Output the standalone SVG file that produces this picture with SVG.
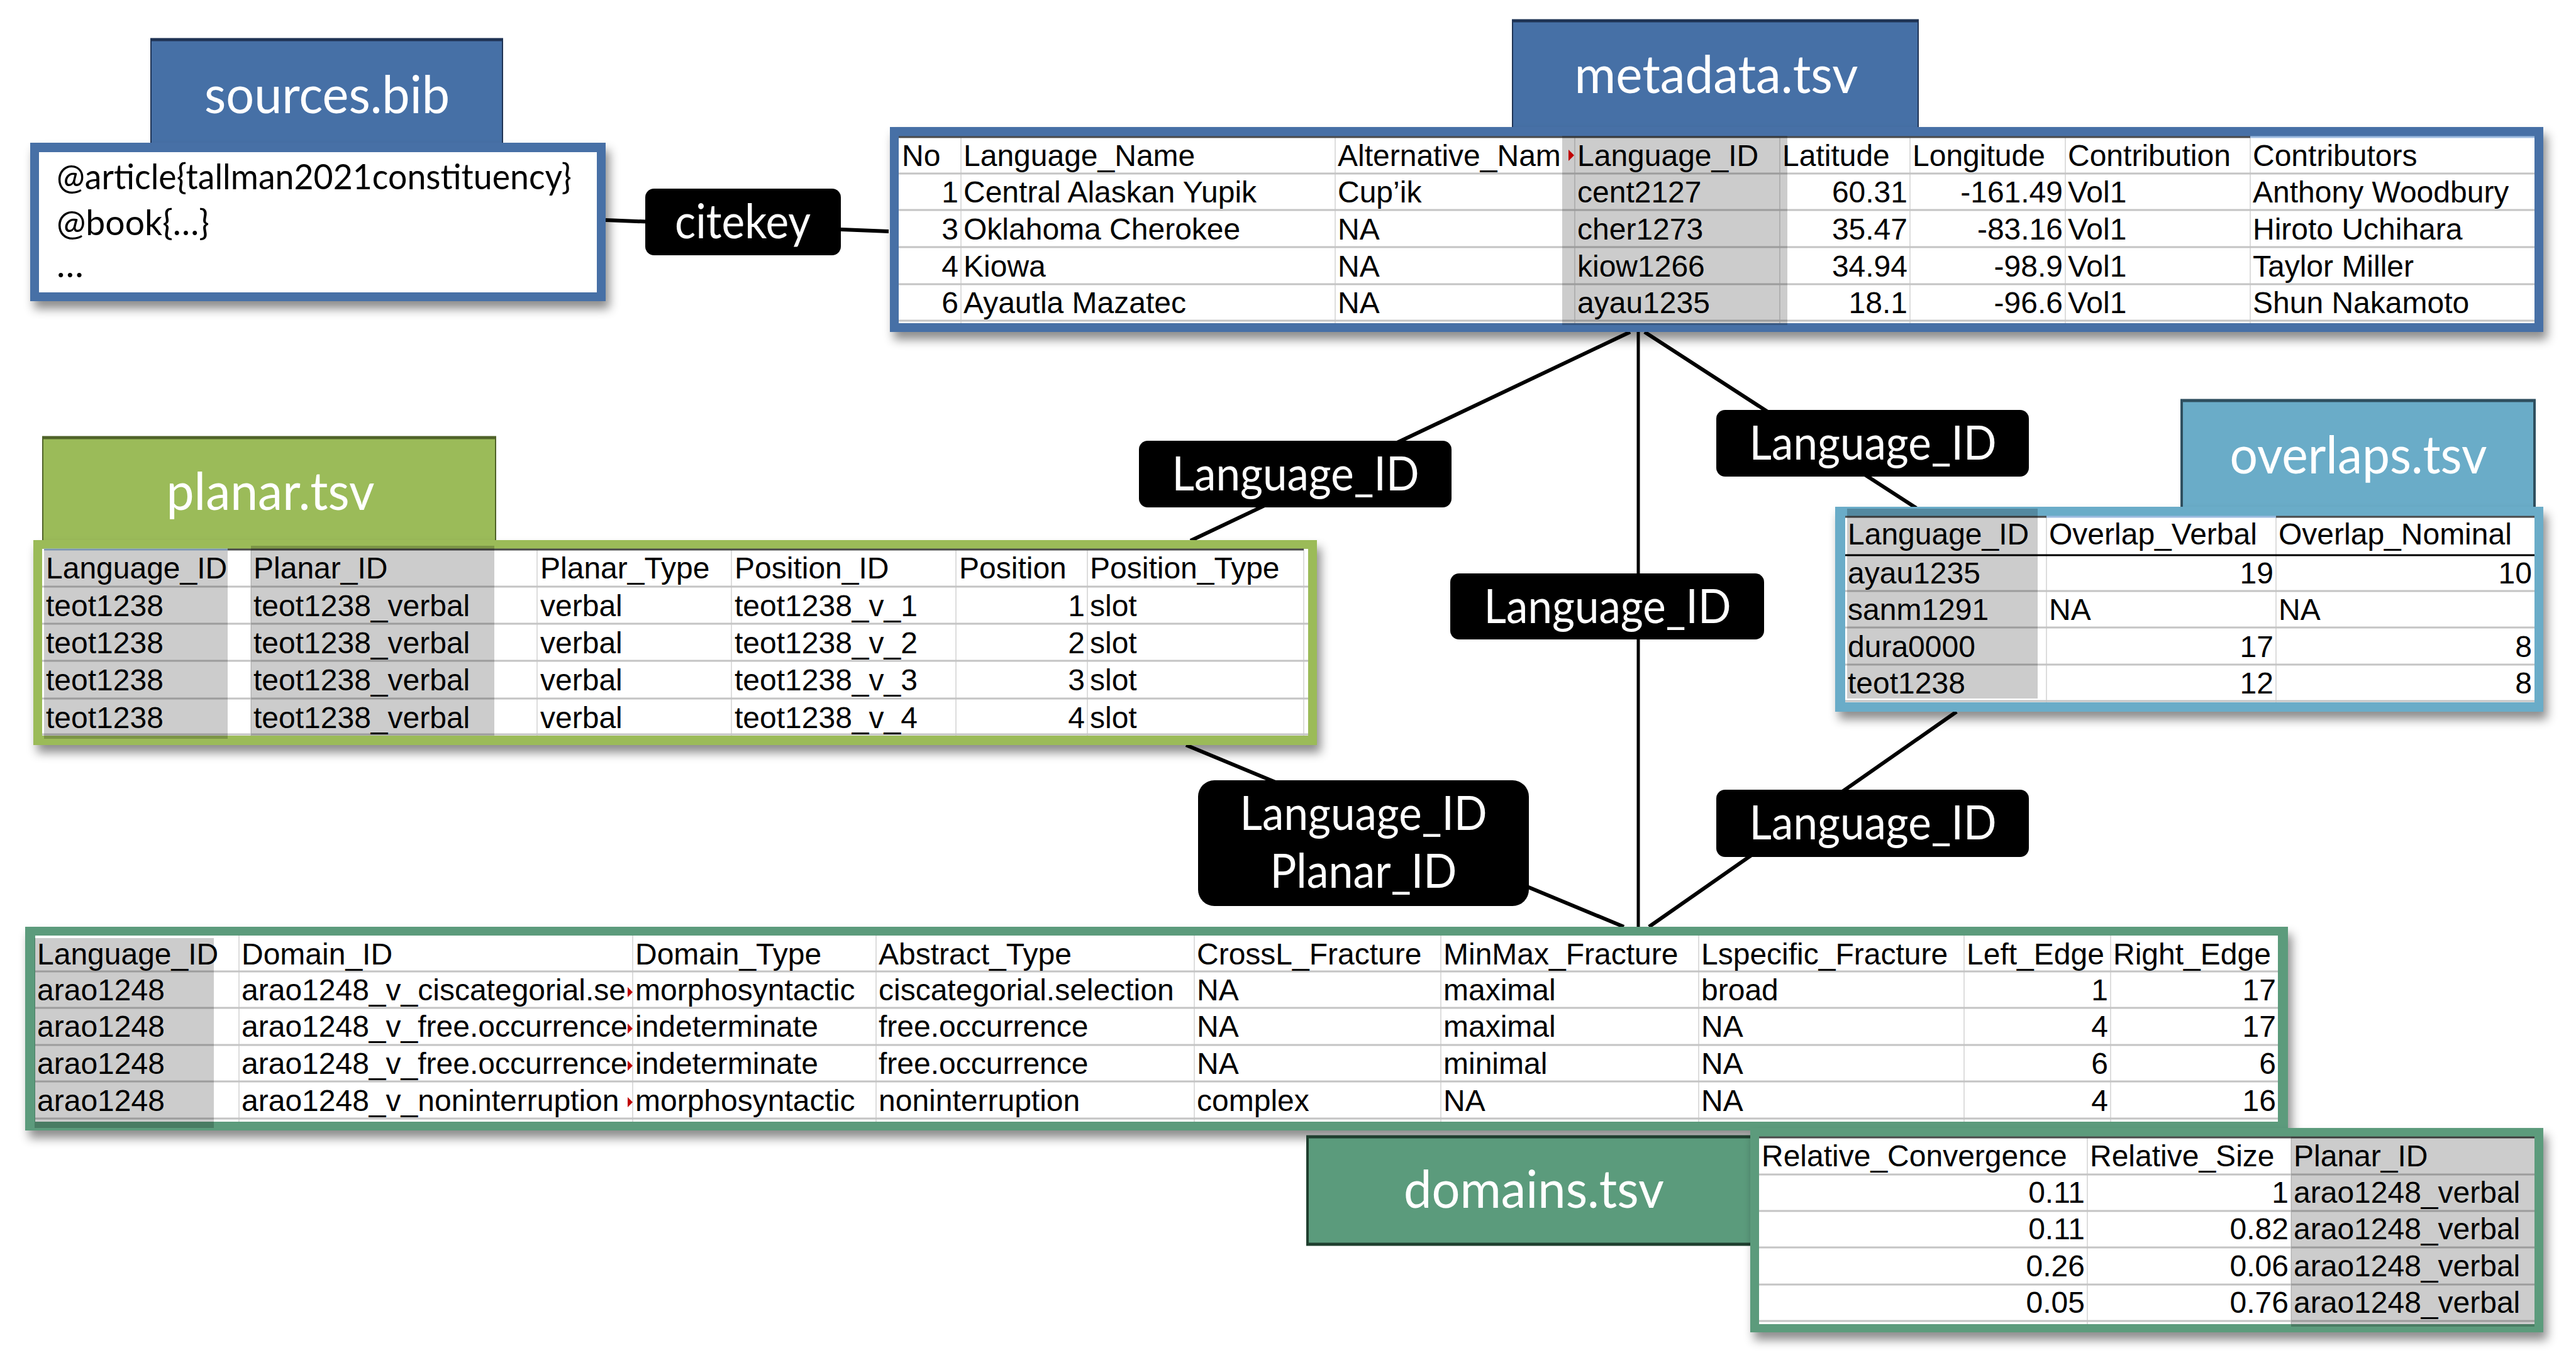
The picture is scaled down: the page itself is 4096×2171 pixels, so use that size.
<svg xmlns="http://www.w3.org/2000/svg" width="4096" height="2171" viewBox="0 0 4096 2171">
<style>
.t{font-family:"Liberation Sans",Arial,sans-serif;font-size:48px;fill:#000}
.r{text-anchor:end}
.ttl{font-family:Lato,"Open Sans",sans-serif;font-size:84px;fill:#fff;text-anchor:middle}
.lbl{font-family:Lato,"Open Sans",sans-serif;font-size:75px;fill:#fff;text-anchor:middle}
.bib{font-family:Lato,"Open Sans",sans-serif;font-size:57px;fill:#000}
.hl{stroke:#c4c4c4;stroke-width:3}
.vl{stroke:#d2d2d2;stroke-width:1.5}
.top{stroke:#4a4a4a;stroke-width:3}
.gray{fill:#000;fill-opacity:0.2}
.conn{stroke:#000;stroke-width:6;fill:none}
.lblbox{fill:#000}
.ovf{fill:#c00000}
</style>
<defs>
<filter id="sh" x="-5%" y="-10%" width="115%" height="130%">
<feDropShadow dx="6" dy="12" stdDeviation="8" flood-color="#000" flood-opacity="0.45"/>
</filter>
<clipPath id="cpAlt"><rect x="2123" y="217" width="372" height="60"/></clipPath>
</defs>
<rect width="4096" height="2171" fill="#fff"/>

<g id="connectors">
<line class="conn" x1="963" y1="350" x2="1413" y2="368"/>
<line class="conn" x1="2592" y1="528" x2="1893" y2="860"/>
<line class="conn" x1="2605" y1="528" x2="2605" y2="1474" style="stroke-width:5"/>
<line class="conn" x1="2615" y1="528" x2="3047" y2="808"/>
<line class="conn" x1="1886" y1="1185" x2="2582" y2="1474"/>
<line class="conn" x1="3111" y1="1132" x2="2622" y2="1474"/>
</g>

<g id="sources">
<rect x="239" y="61" width="561" height="168" fill="#4670A6"/>
<line x1="239" y1="63" x2="800" y2="63" stroke="#1F3354" stroke-width="5"/>
<line x1="240" y1="61" x2="240" y2="229" stroke="#1F3354" stroke-width="2"/>
<line x1="799" y1="61" x2="799" y2="229" stroke="#1F3354" stroke-width="2"/>
<text class="ttl" x="520" y="180" textLength="390" lengthAdjust="spacingAndGlyphs">sources.bib</text>
<g filter="url(#sh)">
<rect x="48" y="227" width="915" height="252" fill="#4670A6"/>
</g>
<rect x="62" y="242" width="887" height="223" fill="#fff"/>
<text class="bib" x="90" y="301" textLength="819" lengthAdjust="spacingAndGlyphs">@article{tallman2021constituency}</text>
<text class="bib" x="90" y="374" textLength="243" lengthAdjust="spacingAndGlyphs">@book{…}</text>
<text class="bib" x="90" y="441">…</text>
</g>

<g id="metadata">
<rect x="2404" y="31" width="647" height="172" fill="#4670A6"/>
<line x1="2404" y1="33" x2="3051" y2="33" stroke="#1F3354" stroke-width="5"/>
<line x1="2405" y1="31" x2="2405" y2="203" stroke="#1F3354" stroke-width="2"/>
<line x1="3050" y1="31" x2="3050" y2="203" stroke="#1F3354" stroke-width="2"/>
<text class="ttl" x="2729" y="148" textLength="451" lengthAdjust="spacingAndGlyphs">metadata.tsv</text>
<g filter="url(#sh)">
<rect x="1415" y="202" width="2629" height="326" fill="#4670A6"/>
</g>
<rect x="1429" y="217" width="2601" height="297" fill="#fff"/>
<g>
<line class="vl" x1="1528" y1="217" x2="1528" y2="514"/>
<line class="vl" x1="2123" y1="217" x2="2123" y2="514"/>
<line class="vl" x1="2504" y1="217" x2="2504" y2="514"/>
<line class="vl" x1="2830" y1="217" x2="2830" y2="514"/>
<line class="vl" x1="3037" y1="217" x2="3037" y2="514"/>
<line class="vl" x1="3284" y1="217" x2="3284" y2="514"/>
<line class="vl" x1="3578" y1="217" x2="3578" y2="514"/>
<line class="hl" x1="1429" y1="276" x2="4030" y2="276"/>
<line class="hl" x1="1429" y1="334" x2="4030" y2="334"/>
<line class="hl" x1="1429" y1="393" x2="4030" y2="393"/>
<line class="hl" x1="1429" y1="452" x2="4030" y2="452"/>
<line class="hl" x1="1429" y1="510" x2="4030" y2="510"/>
<line class="top" x1="1429" y1="218" x2="3578" y2="218"/>
<line x1="3578" y1="218" x2="4030" y2="218" stroke="#9dbbe0" stroke-width="3"/>
</g>
<rect class="gray" x="2484" y="216" width="358" height="301"/>
<text class="t" x="1434" y="264">No</text>
<text class="t" x="1532" y="264">Language_Name</text>
<text class="t" x="2127" y="264" clip-path="url(#cpAlt)">Alternative_Nam</text>
<polygon class="ovf" points="2494,238 2503,247 2494,256"/>
<text class="t" x="2508" y="264">Language_ID</text>
<text class="t" x="2834" y="264">Latitude</text>
<text class="t" x="3041" y="264">Longitude</text>
<text class="t" x="3288" y="264">Contribution</text>
<text class="t" x="3582" y="264">Contributors</text>

<text class="t r" x="1524" y="322">1</text>
<text class="t" x="1532" y="322">Central Alaskan Yupik</text>
<text class="t" x="2127" y="322">Cup’ik</text>
<text class="t" x="2508" y="322">cent2127</text>
<text class="t r" x="3033" y="322">60.31</text>
<text class="t r" x="3280" y="322">-161.49</text>
<text class="t" x="3288" y="322">Vol1</text>
<text class="t" x="3582" y="322">Anthony Woodbury</text>

<text class="t r" x="1524" y="381">3</text>
<text class="t" x="1532" y="381">Oklahoma Cherokee</text>
<text class="t" x="2127" y="381">NA</text>
<text class="t" x="2508" y="381">cher1273</text>
<text class="t r" x="3033" y="381">35.47</text>
<text class="t r" x="3280" y="381">-83.16</text>
<text class="t" x="3288" y="381">Vol1</text>
<text class="t" x="3582" y="381">Hiroto Uchihara</text>

<text class="t r" x="1524" y="440">4</text>
<text class="t" x="1532" y="440">Kiowa</text>
<text class="t" x="2127" y="440">NA</text>
<text class="t" x="2508" y="440">kiow1266</text>
<text class="t r" x="3033" y="440">34.94</text>
<text class="t r" x="3280" y="440">-98.9</text>
<text class="t" x="3288" y="440">Vol1</text>
<text class="t" x="3582" y="440">Taylor Miller</text>

<text class="t r" x="1524" y="498">6</text>
<text class="t" x="1532" y="498">Ayautla Mazatec</text>
<text class="t" x="2127" y="498">NA</text>
<text class="t" x="2508" y="498">ayau1235</text>
<text class="t r" x="3033" y="498">18.1</text>
<text class="t r" x="3280" y="498">-96.6</text>
<text class="t" x="3288" y="498">Vol1</text>
<text class="t" x="3582" y="498">Shun Nakamoto</text>
</g>

<g id="planar">
<rect x="67" y="694" width="722" height="166" fill="#9BBB59"/>
<line x1="67" y1="696" x2="789" y2="696" stroke="#4F6228" stroke-width="5"/>
<line x1="68" y1="694" x2="68" y2="860" stroke="#4F6228" stroke-width="2"/>
<line x1="788" y1="694" x2="788" y2="860" stroke="#4F6228" stroke-width="2"/>
<text class="ttl" x="430" y="811" textLength="331" lengthAdjust="spacingAndGlyphs">planar.tsv</text>
<g filter="url(#sh)">
<rect x="53" y="859" width="2041" height="326" fill="#9BBB59"/>
</g>
<rect x="67" y="873" width="2013" height="297" fill="#fff"/>
<line class="vl" x1="399" y1="873" x2="399" y2="1170"/>
<line class="vl" x1="854" y1="873" x2="854" y2="1170"/>
<line class="vl" x1="1163" y1="873" x2="1163" y2="1170"/>
<line class="vl" x1="1520" y1="873" x2="1520" y2="1170"/>
<line class="vl" x1="1729" y1="873" x2="1729" y2="1170"/>
<line class="vl" x1="2073" y1="873" x2="2073" y2="1170"/>
<line class="hl" x1="67" y1="933" x2="2080" y2="933"/>
<line class="hl" x1="67" y1="992" x2="2080" y2="992"/>
<line class="hl" x1="67" y1="1051" x2="2080" y2="1051"/>
<line class="hl" x1="67" y1="1111" x2="2080" y2="1111"/>
<line class="hl" x1="67" y1="1168" x2="2080" y2="1168"/>
<line class="top" x1="362" y1="874" x2="2073" y2="874"/>
<line x1="70" y1="874" x2="362" y2="874" stroke="#9dbbe0" stroke-width="3"/>
<rect class="gray" x="70" y="873" width="292" height="302"/>
<rect class="gray" x="399" y="868" width="387" height="302"/>
<text class="t" x="73" y="920">Language_ID</text>
<text class="t" x="403" y="920">Planar_ID</text>
<text class="t" x="859" y="920">Planar_Type</text>
<text class="t" x="1168" y="920">Position_ID</text>
<text class="t" x="1525" y="920">Position</text>
<text class="t" x="1733" y="920">Position_Type</text>

<text class="t" x="73" y="980">teot1238</text>
<text class="t" x="403" y="980">teot1238_verbal</text>
<text class="t" x="859" y="980">verbal</text>
<text class="t" x="1168" y="980">teot1238_v_1</text>
<text class="t r" x="1725" y="980">1</text>
<text class="t" x="1733" y="980">slot</text>

<text class="t" x="73" y="1039">teot1238</text>
<text class="t" x="403" y="1039">teot1238_verbal</text>
<text class="t" x="859" y="1039">verbal</text>
<text class="t" x="1168" y="1039">teot1238_v_2</text>
<text class="t r" x="1725" y="1039">2</text>
<text class="t" x="1733" y="1039">slot</text>

<text class="t" x="73" y="1098">teot1238</text>
<text class="t" x="403" y="1098">teot1238_verbal</text>
<text class="t" x="859" y="1098">verbal</text>
<text class="t" x="1168" y="1098">teot1238_v_3</text>
<text class="t r" x="1725" y="1098">3</text>
<text class="t" x="1733" y="1098">slot</text>

<text class="t" x="73" y="1158">teot1238</text>
<text class="t" x="403" y="1158">teot1238_verbal</text>
<text class="t" x="859" y="1158">verbal</text>
<text class="t" x="1168" y="1158">teot1238_v_4</text>
<text class="t r" x="1725" y="1158">4</text>
<text class="t" x="1733" y="1158">slot</text>
</g>

<g id="overlaps">
<rect x="3467" y="635" width="565" height="172" fill="#6AACC8"/>
<line x1="3467" y1="637" x2="4032" y2="637" stroke="#2F4F5F" stroke-width="5"/>
<line x1="3469" y1="635" x2="3469" y2="807" stroke="#2F4F5F" stroke-width="4"/>
<line x1="4030" y1="635" x2="4030" y2="807" stroke="#2F4F5F" stroke-width="4"/>
<text class="ttl" x="3750" y="753" textLength="409" lengthAdjust="spacingAndGlyphs">overlaps.tsv</text>
<g filter="url(#sh)">
<rect x="2918" y="806" width="1126" height="326" fill="#6AACC8"/>
</g>
<rect x="2934" y="821" width="1096" height="296" fill="#fff"/>
<line class="vl" x1="3254" y1="821" x2="3254" y2="1117"/>
<line class="vl" x1="3619" y1="821" x2="3619" y2="1117"/>
<line class="hl" x1="2934" y1="940" x2="4030" y2="940"/>
<line class="hl" x1="2934" y1="998" x2="4030" y2="998"/>
<line class="hl" x1="2934" y1="1057" x2="4030" y2="1057"/>
<line class="hl" x1="2934" y1="1115" x2="4030" y2="1115"/>
<line x1="2934" y1="883" x2="4030" y2="883" stroke="#000" stroke-width="3"/>
<line class="top" x1="2934" y1="822" x2="3254" y2="822"/>
<line x1="3254" y1="822" x2="3619" y2="822" stroke="#9dbbe0" stroke-width="3"/>
<line class="top" x1="3619" y1="822" x2="4030" y2="822"/>
<rect class="gray" x="2937" y="809" width="303" height="302"/>
<text class="t" x="2938" y="866">Language_ID</text>
<text class="t" x="3258" y="866">Overlap_Verbal</text>
<text class="t" x="3623" y="866">Overlap_Nominal</text>

<text class="t" x="2938" y="928">ayau1235</text>
<text class="t r" x="3615" y="928">19</text>
<text class="t r" x="4026" y="928">10</text>

<text class="t" x="2938" y="986">sanm1291</text>
<text class="t" x="3258" y="986">NA</text>
<text class="t" x="3623" y="986">NA</text>

<text class="t" x="2938" y="1045">dura0000</text>
<text class="t r" x="3615" y="1045">17</text>
<text class="t r" x="4026" y="1045">8</text>

<text class="t" x="2938" y="1103">teot1238</text>
<text class="t r" x="3615" y="1103">12</text>
<text class="t r" x="4026" y="1103">8</text>
</g>

<g id="domains">
<g filter="url(#sh)">
<rect x="40" y="1474" width="3598" height="324" fill="#5B9B7C"/>
</g>
<rect x="56" y="1488" width="3566" height="296" fill="#fff"/>
<line class="vl" x1="380" y1="1488" x2="380" y2="1784"/>
<line class="vl" x1="1006" y1="1488" x2="1006" y2="1784"/>
<line class="vl" x1="1393" y1="1488" x2="1393" y2="1784"/>
<line class="vl" x1="1899" y1="1488" x2="1899" y2="1784"/>
<line class="vl" x1="2291" y1="1488" x2="2291" y2="1784"/>
<line class="vl" x1="2701" y1="1488" x2="2701" y2="1784"/>
<line class="vl" x1="3123" y1="1488" x2="3123" y2="1784"/>
<line class="vl" x1="3356" y1="1488" x2="3356" y2="1784"/>
<line class="hl" x1="56" y1="1545" x2="3622" y2="1545"/>
<line class="hl" x1="56" y1="1603" x2="3622" y2="1603"/>
<line class="hl" x1="56" y1="1662" x2="3622" y2="1662"/>
<line class="hl" x1="56" y1="1720" x2="3622" y2="1720"/>
<line class="hl" x1="56" y1="1779" x2="3622" y2="1779"/>
<rect class="gray" x="55" y="1492" width="285" height="302"/>
<text class="t" x="59" y="1534">Language_ID</text>
<text class="t" x="384" y="1534">Domain_ID</text>
<text class="t" x="1010" y="1534">Domain_Type</text>
<text class="t" x="1397" y="1534">Abstract_Type</text>
<text class="t" x="1903" y="1534">CrossL_Fracture</text>
<text class="t" x="2295" y="1534">MinMax_Fracture</text>
<text class="t" x="2705" y="1534">Lspecific_Fracture</text>
<text class="t" x="3127" y="1534">Left_Edge</text>
<text class="t" x="3360" y="1534">Right_Edge</text>

<text class="t" x="59" y="1591">arao1248</text>
<text class="t" x="384" y="1591">arao1248_v_ciscategorial.se</text>
<text class="t" x="1010" y="1591">morphosyntactic</text>
<text class="t" x="1397" y="1591">ciscategorial.selection</text>
<text class="t" x="1903" y="1591">NA</text>
<text class="t" x="2295" y="1591">maximal</text>
<text class="t" x="2705" y="1591">broad</text>
<text class="t r" x="3352" y="1591">1</text>
<text class="t r" x="3619" y="1591">17</text>

<text class="t" x="59" y="1649">arao1248</text>
<text class="t" x="384" y="1649">arao1248_v_free.occurrence</text>
<text class="t" x="1010" y="1649">indeterminate</text>
<text class="t" x="1397" y="1649">free.occurrence</text>
<text class="t" x="1903" y="1649">NA</text>
<text class="t" x="2295" y="1649">maximal</text>
<text class="t" x="2705" y="1649">NA</text>
<text class="t r" x="3352" y="1649">4</text>
<text class="t r" x="3619" y="1649">17</text>

<text class="t" x="59" y="1708">arao1248</text>
<text class="t" x="384" y="1708">arao1248_v_free.occurrence</text>
<text class="t" x="1010" y="1708">indeterminate</text>
<text class="t" x="1397" y="1708">free.occurrence</text>
<text class="t" x="1903" y="1708">NA</text>
<text class="t" x="2295" y="1708">minimal</text>
<text class="t" x="2705" y="1708">NA</text>
<text class="t r" x="3352" y="1708">6</text>
<text class="t r" x="3619" y="1708">6</text>

<text class="t" x="59" y="1767">arao1248</text>
<text class="t" x="384" y="1767">arao1248_v_noninterruption</text>
<text class="t" x="1010" y="1767">morphosyntactic</text>
<text class="t" x="1397" y="1767">noninterruption</text>
<text class="t" x="1903" y="1767">complex</text>
<text class="t" x="2295" y="1767">NA</text>
<text class="t" x="2705" y="1767">NA</text>
<text class="t r" x="3352" y="1767">4</text>
<text class="t r" x="3619" y="1767">16</text>
<polygon class="ovf" points="998,1570 1006,1578 998,1586"/>
<polygon class="ovf" points="998,1628 1006,1636 998,1644"/>
<polygon class="ovf" points="998,1687 1006,1695 998,1703"/>
<polygon class="ovf" points="998,1745 1006,1753 998,1761"/>

<rect x="2077" y="1806" width="706" height="175" fill="#5B9B7C"/>
<line x1="2077" y1="1808" x2="2783" y2="1808" stroke="#1F3F2F" stroke-width="5"/>
<line x1="2079" y1="1806" x2="2079" y2="1981" stroke="#1F3F2F" stroke-width="4"/>
<line x1="2077" y1="1979" x2="2783" y2="1979" stroke="#1F3F2F" stroke-width="5"/>
<text class="ttl" x="2439" y="1921" textLength="414" lengthAdjust="spacingAndGlyphs">domains.tsv</text>
<g filter="url(#sh)">
<rect x="2783" y="1794" width="1261" height="325" fill="#5B9B7C"/>
</g>
<rect x="2797" y="1808" width="1233" height="298" fill="#fff"/>
<line class="vl" x1="3319" y1="1808" x2="3319" y2="2106"/>
<line class="vl" x1="3643" y1="1808" x2="3643" y2="2106"/>
<line class="hl" x1="2797" y1="1868" x2="4030" y2="1868"/>
<line class="hl" x1="2797" y1="1926" x2="4030" y2="1926"/>
<line class="hl" x1="2797" y1="1984" x2="4030" y2="1984"/>
<line class="hl" x1="2797" y1="2043" x2="4030" y2="2043"/>
<line class="hl" x1="2797" y1="2101" x2="4030" y2="2101"/>
<line class="top" x1="2797" y1="1809" x2="4030" y2="1809"/>
<rect class="gray" x="3643" y="1808" width="387" height="302"/>
<text class="t" x="2801" y="1855">Relative_Convergence</text>
<text class="t" x="3323" y="1855">Relative_Size</text>
<text class="t" x="3647" y="1855">Planar_ID</text>

<text class="t r" x="3315" y="1913">0.11</text>
<text class="t r" x="3639" y="1913">1</text>
<text class="t" x="3647" y="1913">arao1248_verbal</text>

<text class="t r" x="3315" y="1971">0.11</text>
<text class="t r" x="3639" y="1971">0.82</text>
<text class="t" x="3647" y="1971">arao1248_verbal</text>

<text class="t r" x="3315" y="2030">0.26</text>
<text class="t r" x="3639" y="2030">0.06</text>
<text class="t" x="3647" y="2030">arao1248_verbal</text>

<text class="t r" x="3315" y="2088">0.05</text>
<text class="t r" x="3639" y="2088">0.76</text>
<text class="t" x="3647" y="2088">arao1248_verbal</text>
</g>

<g id="label-citekey">
<rect class="lblbox" x="1026" y="300" width="311" height="106" rx="14"/>
<text class="lbl" x="1181" y="379" textLength="216" lengthAdjust="spacingAndGlyphs">citekey</text>
</g>
<g id="label-planar">
<rect class="lblbox" x="1811" y="701" width="497" height="106" rx="14"/>
<text class="lbl" x="2060" y="780" textLength="393" lengthAdjust="spacingAndGlyphs">Language_ID</text>
</g>
<g id="label-overlaps">
<rect class="lblbox" x="2729" y="652" width="497" height="106" rx="14"/>
<text class="lbl" x="2978" y="731" textLength="393" lengthAdjust="spacingAndGlyphs">Language_ID</text>
</g>
<g id="label-domains">
<rect class="lblbox" x="2306" y="912" width="499" height="105" rx="14"/>
<text class="lbl" x="2556" y="991" textLength="393" lengthAdjust="spacingAndGlyphs">Language_ID</text>
</g>
<g id="label-planar-domains">
<rect class="lblbox" x="1905" y="1241" width="526" height="200" rx="26"/>
<text class="lbl" x="2168" y="1320" textLength="393" lengthAdjust="spacingAndGlyphs">Language_ID</text>
<text class="lbl" x="2168" y="1412" textLength="297" lengthAdjust="spacingAndGlyphs">Planar_ID</text>
</g>
<g id="label-overlaps-domains">
<rect class="lblbox" x="2729" y="1256" width="497" height="107" rx="14"/>
<text class="lbl" x="2978" y="1335" textLength="393" lengthAdjust="spacingAndGlyphs">Language_ID</text>
</g>
</svg>
